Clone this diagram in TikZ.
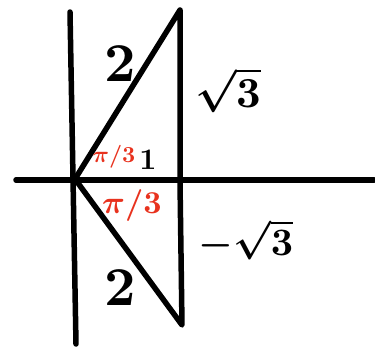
\documentclass[tikz,border=0pt]{standalone}
\usepackage{amsmath,amssymb}
\usepackage{graphicx}
\usepackage{tikz}
\usetikzlibrary{positioning,calc}
\definecolor{inkred}{HTML}{E8321E}
\newcommand{\handlab}[2]{\scalebox{#1}{\boldmath$#2$}}
\tikzset{
  ink/.style={line width=5.5bp,black,line cap=round,line join=round},
  lab/.style={inner sep=0pt},
  ang/.style={text=inkred,inner sep=0pt},
}
\begin{document}
\begin{tikzpicture}[x=1bp,y=-1bp]
    \useasboundingbox (0,0) rectangle (375,349);
    % axes
    \coordinate (yt) at (70,12);
    \coordinate (yb) at (76,344);
    \coordinate (xl) at (16,180);
    \coordinate (xr) at (374,180);
    \coordinate (O) at (75,179);
    \coordinate (top) at (180,10);
    \coordinate (footU) at (180,178);
    \coordinate (footL) at (180,182);
    \coordinate (bot) at (182,325);
    \draw[ink](yt)--(yb);
    \draw[ink](xl)--(xr);
    % triangles
    \draw[ink](O)--(top)--(footU);
    \draw[ink](O)--(bot)--(footL);
    % labels
    \node[lab] (hypU) at (120,64) {\handlab{5.5}{2}};
    \node[lab] (legU) at (228,90) {\handlab{4.3}{\sqrt{3}}};
    \node[lab] (base) at (148,160) {\handlab{3}{1}};
    \node[ang] (angU) at (114,157) {\handlab{2.3}{\pi/3}};
    \node[ang] (angL) at (132,206) {\handlab{3.2}{\pi/3}};
    \node[lab] (legL) at (246,240) {\handlab{3.9}{-\sqrt{3}}};
    \node[lab] (hypL) at (120,288) {\handlab{5.5}{2}};
  \end{tikzpicture}
\end{document}
